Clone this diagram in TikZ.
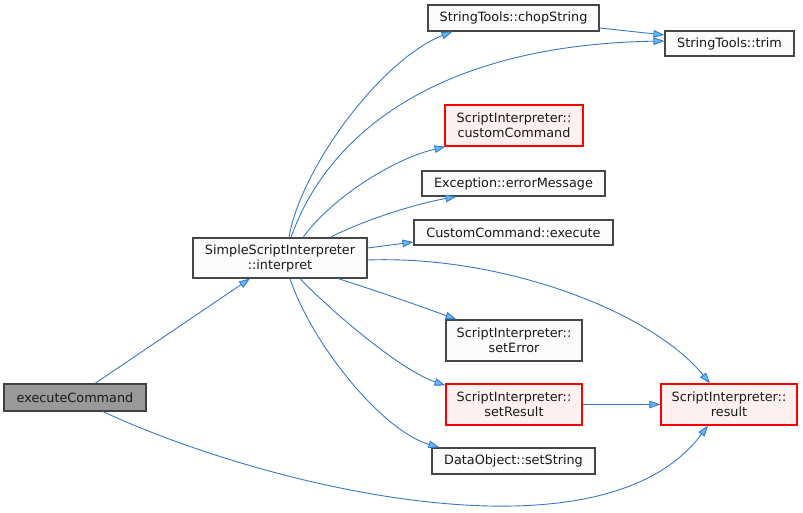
\documentclass[tikz,border=0pt]{standalone}
\usepackage{fontspec}
\setmainfont{DejaVu Sans}
\usetikzlibrary{arrows.meta}
\definecolor{edgeline}{RGB}{52,120,200}
\definecolor{edgefill}{RGB}{99,184,255}
\definecolor{boxborder}{RGB}{70,70,70}
\definecolor{boxfill}{RGB}{250,251,250}
\definecolor{redborder}{RGB}{255,0,0}
\definecolor{redfill}{RGB}{255,240,240}
\definecolor{startfill}{RGB}{153,153,153}
\tikzset{
  fn/.style={draw=boxborder, fill=boxfill, line width=1.1pt, inner sep=0pt,
    align=center, font=\fontsize{12.8}{15}\selectfont, text=black!90},
  fnred/.style={fn, draw=redborder, fill=redfill},
  fnstart/.style={fn, draw=black!75, fill=startfill},
  call/.style={draw=edgeline, line width=0.9pt,
    -{Triangle[length=11pt,width=7.5pt,fill=edgefill]}},
}
\begin{document}
\begin{tikzpicture}[x=1pt,y=-1pt]
\useasboundingbox (0,0) rectangle (803,512);

% functions
\node[fnstart, minimum width=142, minimum height=27] (exec) at (75,397.5) {executeCommand};
\node[fn, minimum width=174, minimum height=40] (interp) at (280,258) {SimpleScriptInterpreter\\::interpret};
\node[fn, minimum width=171, minimum height=26] (chop) at (513.5,18) {StringTools::chopString};
\node[fn, minimum width=129, minimum height=25] (trim) at (729.5,43.5) {StringTools::trim};
\node[fnred, minimum width=138, minimum height=41] (custom) at (514,125.5) {ScriptInterpreter::\\customCommand};
\node[fn, minimum width=183, minimum height=25] (errmsg) at (513.5,183.5) {Exception::errorMessage};
\node[fn, minimum width=199, minimum height=25] (execute) at (513.5,232.5) {CustomCommand::execute};
\node[fn, minimum width=136, minimum height=41] (seterr) at (514,340.5) {ScriptInterpreter::\\setError};
\node[fnred, minimum width=136, minimum height=41] (setres) at (514,404.5) {ScriptInterpreter::\\setResult};
\node[fnred, minimum width=136, minimum height=41] (result) at (729,404.5) {ScriptInterpreter::\\result};
\node[fn, minimum width=163, minimum height=26] (setstr) at (513.5,461) {DataObject::setString};

% calls
\draw[call] ([xshift=20pt]exec.north) -- ([xshift=-30pt]interp.south);
\draw[call] ([xshift=28pt]exec.south) .. controls (260,485) and (600,570) .. ([xshift=-21pt]result.south);

\draw[call] ([xshift=9pt]interp.north) .. controls (300,170) and (380,60) .. ([xshift=-61pt]chop.south);
\draw[call] ([xshift=11pt]interp.north) .. controls (325,140) and (430,45) .. ([yshift=2.5pt]trim.west);
\draw[call] ([xshift=23pt]interp.north) .. controls (330,200) and (390,160) .. ([xshift=1pt]custom.south west);
\draw[call] ([xshift=50pt]interp.north) .. controls (360,222) and (410,205) .. ([xshift=-57pt]errmsg.south);
\draw[call] ([yshift=10pt]interp.east) -- ([yshift=-9.5pt]execute.west);
\draw[call] ([yshift=-2pt]interp.east) .. controls (500,255) and (650,310) .. ([xshift=-19pt]result.north);
\draw[call] ([xshift=58pt]interp.south) .. controls (380,292) and (420,306) .. ([xshift=11pt]seterr.north west);
\draw[call] ([xshift=20pt]interp.south) .. controls (330,310) and (400,370) .. ([yshift=-2pt]setres.north west);
\draw[call] ([xshift=10pt]interp.south) .. controls (310,340) and (380,430) .. ([xshift=8pt]setstr.north west);

\draw[call] ([yshift=-10pt]chop.east) -- ([yshift=8.5pt]trim.west);
\draw[call] (setres.east) -- (result.west);
\end{tikzpicture}
\end{document}
